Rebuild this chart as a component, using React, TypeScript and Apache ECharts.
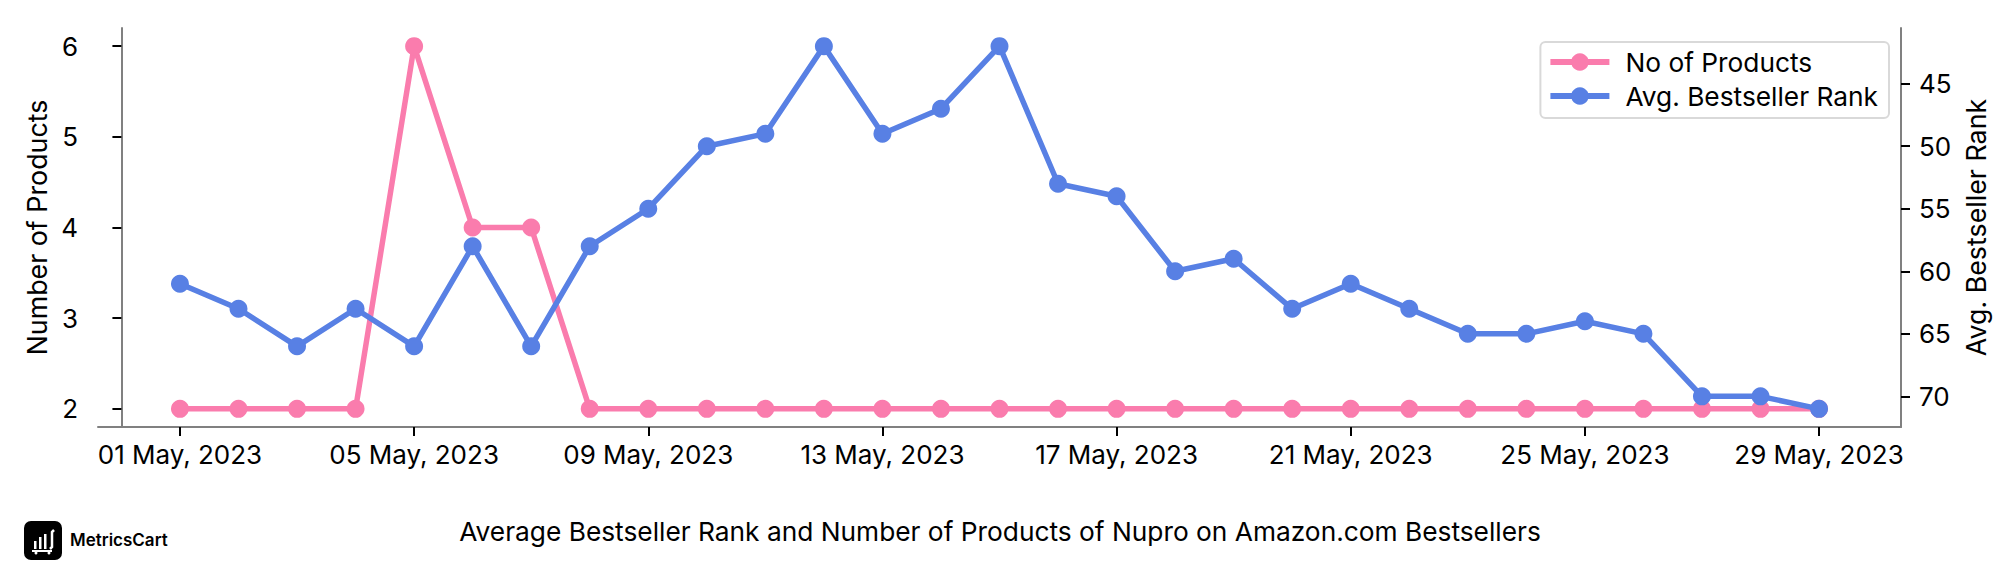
import React, { useEffect, useRef } from "react";
import * as echarts from "echarts";

const days = [1,2,3,4,5,6,7,8,9,10,11,12,13,14,15,16,17,18,19,20,21,22,23,24,25,26,27,28,29];
const products = [2,2,2,2,6,4,4,2,2,2,2,2,2,2,2,2,2,2,2,2,2,2,2,2,2,2,2,2,2];
const ranks = [61,63,66,63,66,58,66,58,55,50,49,42,49,47,42,53,54,60,59,63,61,63,65,65,64,65,70,70,71];
const xTicks = [1,5,9,13,17,21,25,29];
const leftTicks = [2,3,4,5,6];
const rightTicks = [45,50,55,60,65,70];
const FONT = "Inter";
const FS = 26;
const PINK = "#FA7CAD";
const BLUE = "#5880E4";
const GRAY = "#808080";

export default function App() {
  const ref = useRef<HTMLDivElement>(null);
  useEffect(() => {
    const chart = echarts.init(ref.current!, null, { renderer: "svg" });
    const axisLine = { show: true, lineStyle: { color: GRAY, width: 2 } };
    const axisTick = (values: number[]) => ({ show: true, length: 9, customValues: values, lineStyle: { color: "#000", width: 2 } });
    chart.setOption({
      animation: false,
      backgroundColor: "#fff",
      textStyle: { fontFamily: FONT },
      title: {
        text: "Average Bestseller Rank and Number of Products of Nupro on Amazon.com Bestsellers",
        left: 1000, top: 518, padding: 0, textAlign: "center",
        textStyle: { fontFamily: FONT, fontSize: 26.3, fontWeight: 400, color: "#000" },
      },
      grid: { left: 98, right: 115, top: 28, bottom: 149 },
      legend: {
        right: 127, top: 42, orient: "vertical", padding: [7, 11, 9, 7],
        itemWidth: 59, itemHeight: 22, itemGap: 8,
        borderColor: "#d9d9d9", borderWidth: 2, borderRadius: 5,
        lineStyle: { width: 6 },
        textStyle: { fontFamily: FONT, fontSize: 26.3, color: "#000", padding: [0, 0, 0, 11] },
        data: ["No of Products", "Avg. Bestseller Rank"],
      },
      xAxis: {
        type: "value", min: -0.4, max: 30.4, axisLine, axisTick: axisTick(xTicks), splitLine: { show: false },
        axisLabel: {
          customValues: xTicks, fontSize: FS, color: "#000", fontFamily: FONT, margin: 14, hideOverlap: false,
          formatter: (v: number) => `${String(v).padStart(2, "0")} May, 2023`,
        },
      },
      yAxis: [
        {
          type: "value", min: 1.8, max: 6.2, position: "left", axisLine, axisTick: axisTick(leftTicks), splitLine: { show: false },
          axisLabel: { customValues: leftTicks, fontSize: FS, color: "#000", fontFamily: FONT, margin: 20 },
          name: "Number of Products", nameLocation: "middle", nameGap: 47,
          nameTextStyle: { fontSize: 26.8, color: "#000", fontFamily: FONT },
        },
        {
          type: "value", min: 40.55, max: 72.45, inverse: true, position: "right", axisLine, axisTick: axisTick(rightTicks), splitLine: { show: false },
          axisLabel: { customValues: rightTicks, fontSize: FS, color: "#000", fontFamily: FONT, margin: 18 },
          name: "Avg. Bestseller Rank", nameLocation: "middle", nameGap: 57,
          nameTextStyle: { fontSize: 26.8, color: "#000", fontFamily: FONT },
        },
      ],
      series: [
        {
          name: "No of Products", type: "line", yAxisIndex: 0, data: days.map((d, i) => [d, products[i]]),
          symbol: "circle", symbolSize: 18, lineStyle: { color: PINK, width: 5.5 }, itemStyle: { color: PINK }, z: 2,
        },
        {
          name: "Avg. Bestseller Rank", type: "line", yAxisIndex: 1, data: days.map((d, i) => [d, ranks[i]]),
          symbol: "circle", symbolSize: 18, lineStyle: { color: BLUE, width: 5.5 }, itemStyle: { color: BLUE }, z: 3,
        },
      ],
      graphic: [
        { type: "rect", shape: { x: 24, y: 521, width: 38, height: 39, r: 7 }, style: { fill: "#000" } },
        { type: "rect", shape: { x: 34, y: 541, width: 2.5, height: 8 }, style: { fill: "#fff" } },
        { type: "rect", shape: { x: 39, y: 537, width: 2.5, height: 12 }, style: { fill: "#fff" } },
        { type: "rect", shape: { x: 44, y: 534, width: 2.5, height: 15 }, style: { fill: "#fff" } },
        { type: "polyline", shape: { points: [[50, 549], [52, 547], [52, 532], [54, 530]] }, style: { stroke: "#fff", lineWidth: 2.5, fill: "none" } },
        { type: "line", shape: { x1: 32, y1: 551, x2: 52, y2: 551 }, style: { stroke: "#fff", lineWidth: 2 } },
        { type: "circle", shape: { cx: 36, cy: 553, r: 1.5 }, style: { fill: "#fff" } },
        { type: "circle", shape: { cx: 49, cy: 553, r: 1.5 }, style: { fill: "#fff" } },
        { type: "text", x: 70, y: 531, style: { text: "MetricsCart", fontFamily: FONT, fontSize: 17, fontWeight: 600, fill: "#000" } },
      ],
    });
    return () => chart.dispose();
  }, []);
  return <div ref={ref} style={{ position: "absolute", left: 0, top: 0, width: 2016, height: 576 }} />;
}
